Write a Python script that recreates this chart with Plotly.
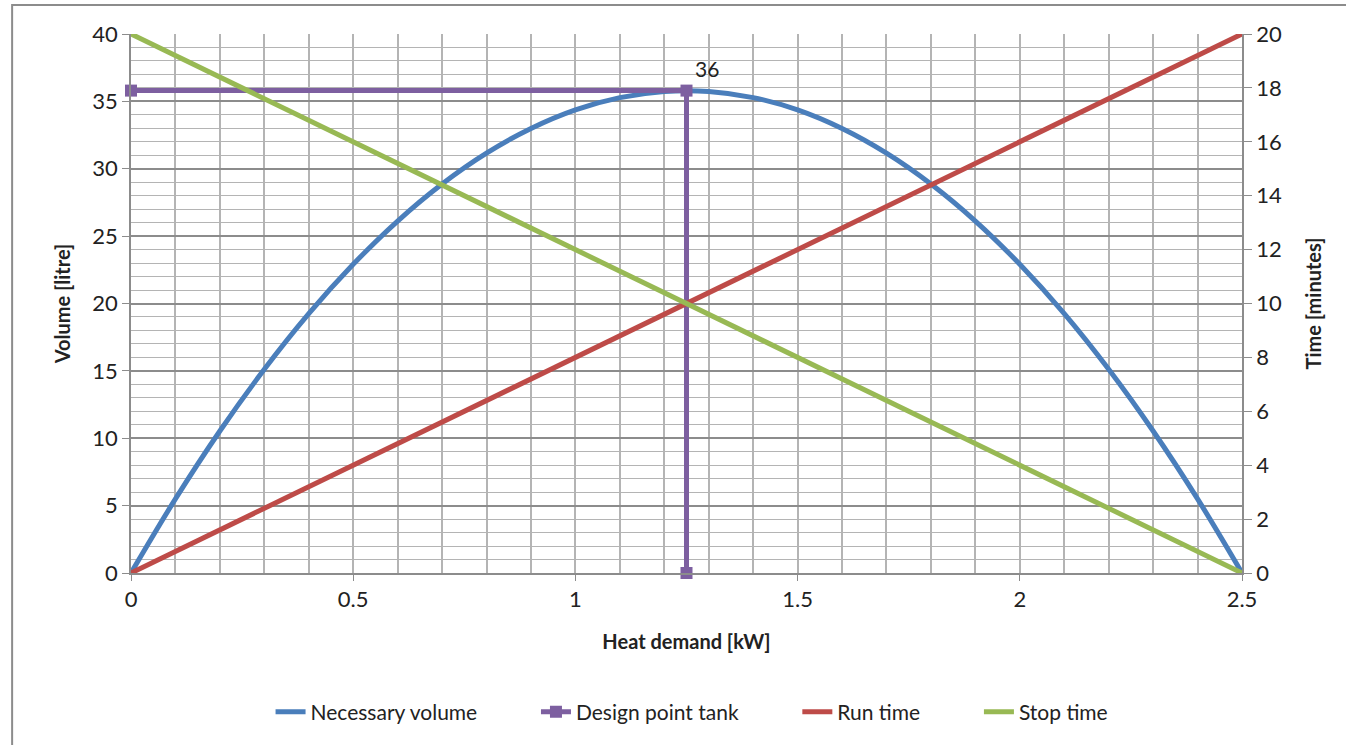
import plotly.graph_objects as go

# Data
heat_demand = [0.0, 0.1, 0.2, 0.3, 0.4, 0.5, 0.6, 0.7, 0.8, 0.9, 1.0, 1.1, 1.2,
               1.3, 1.4, 1.5, 1.6, 1.7, 1.8, 1.9, 2.0, 2.1, 2.2, 2.3, 2.4, 2.5]
necessary_volume = [0.0, 5.50, 10.54, 15.12, 19.25, 22.91, 26.12, 28.87, 31.16, 32.99,
                    34.37, 35.28, 35.74, 35.74, 35.28, 34.37, 32.99, 31.16, 28.87,
                    26.12, 22.91, 19.25, 15.12, 10.54, 5.50, 0.0]
design_x = [0.0, 1.25, 1.25]
design_y = [35.8, 35.8, 0.0]
design_labels = ["", "36", ""]
time_x = [0.0, 1.25, 2.5]
run_time = [0.0, 10.0, 20.0]
stop_time = [20.0, 10.0, 0.0]
series_names = ["Necessary volume", "Design point tank", "Run time", "Stop time"]

FONT = "Lato"
BLUE = "#4A7EBB"
PURPLE = "#7D5FA0"
RED = "#BE4B48"
GREEN = "#98B954"
GRID = "#B4B4B4"
MAJOR = "#8C8C8C"
PAD = "\u00a0" * 10

fig = go.Figure()
fig.add_trace(go.Scatter(x=heat_demand, y=necessary_volume, name=series_names[0] + PAD,
                         mode="lines", line=dict(color=BLUE, width=5, shape="spline")))
fig.add_trace(go.Scatter(x=design_x, y=design_y, name=series_names[1] + PAD,
                         mode="lines+markers+text", text=design_labels,
                         textposition="top right",
                         textfont=dict(size=21, color="#222"),
                         line=dict(color=PURPLE, width=5),
                         marker=dict(symbol="square", size=12, color=PURPLE),
                         cliponaxis=False))
fig.add_trace(go.Scatter(x=time_x, y=run_time, name=series_names[2] + PAD, yaxis="y2",
                         mode="lines", line=dict(color=RED, width=5)))
fig.add_trace(go.Scatter(x=time_x, y=stop_time, name=series_names[3], yaxis="y2",
                         mode="lines", line=dict(color=GREEN, width=5)))

fig.update_layout(
    width=1346, height=745,
    margin=dict(l=131, r=104, t=34, b=172),
    paper_bgcolor="white", plot_bgcolor="white",
    font=dict(family=FONT, size=22, color="#222"),
    showlegend=True,
    legend=dict(orientation="h", x=0.505, xanchor="center", y=-0.258, yanchor="middle",
                font=dict(size=21), traceorder="normal"),
    xaxis=dict(range=[0, 2.5], dtick=0.5, tick0=0, showgrid=True, gridcolor=GRID,
               gridwidth=1.5, zeroline=False, showline=True, linecolor=MAJOR, linewidth=1.5,
               ticks="outside", ticklen=6, tickcolor=MAJOR,
               minor=dict(dtick=0.1, showgrid=True, gridcolor=GRID, gridwidth=1.5),
               title=dict(text="<b>Heat demand [kW]</b>", font=dict(size=20), standoff=24)),
    yaxis=dict(range=[0, 40], dtick=5, tick0=0, showgrid=True, gridcolor=MAJOR,
               gridwidth=1.5, zeroline=False, showline=True, linecolor=MAJOR, linewidth=1.5,
               ticks="outside", ticklen=7, tickcolor=MAJOR,
               minor=dict(dtick=1, showgrid=True, gridcolor=GRID, gridwidth=1.2),
               title=dict(text="<b>Volume [litre]</b>", font=dict(size=20), standoff=16)),
    yaxis2=dict(range=[0, 20], dtick=2, tick0=0, overlaying="y", side="right",
                showgrid=False, zeroline=False, showline=True, linecolor=MAJOR,
                linewidth=1.5, ticks="outside", ticklen=8, tickcolor=MAJOR,
                title=dict(text="<b>Time [minutes]</b>", font=dict(size=20), standoff=26)),
    shapes=[dict(type="rect", xref="paper", yref="paper",
                 x0=-0.107, x1=1.2, y0=-0.4, y1=1.054,
                 line=dict(color="#8C8C8C", width=2), fillcolor="rgba(0,0,0,0)",
                 layer="below")],
)

fig.write_html("out.html")
